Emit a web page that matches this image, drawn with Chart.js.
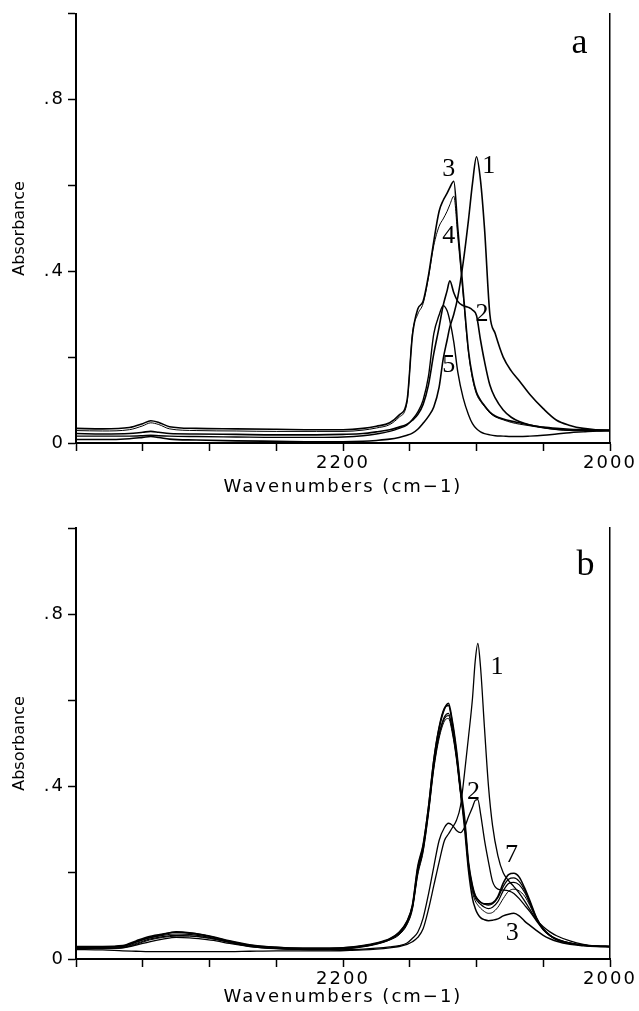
<!DOCTYPE html>
<html>
<head>
<meta charset="utf-8">
<script src="https://cdn.jsdelivr.net/npm/chart.js@4.4.1/dist/chart.umd.min.js"></script>
<style>
  body { margin: 0; background: #fff; }
  .panel { position: absolute; left: 0; }
</style>
</head>
<body>
<div class="panel" style="top:0"><canvas id="chart-a" width="639" height="500"></canvas></div>
<div class="panel" style="top:500px"><canvas id="chart-b" width="639" height="511"></canvas></div>
<script>
// wavenumber grid of panel a (cm-1, high to low)
const wnA = [2400, 2380, 2360, 2350, 2344, 2338, 2330, 2310, 2280, 2250, 2220, 2200, 2185, 2175, 2165, 2158,
  2152, 2148, 2144, 2140, 2136, 2132, 2128, 2125, 2122, 2120, 2117, 2114, 2110, 2106, 2103, 2100,
  2097, 2094, 2090, 2086, 2080, 2074, 2068, 2060, 2050, 2040, 2030, 2020, 2010, 2000];

const a1 = [.008, .008, .010, .013, .015, .013, .009, .007, .005, .004, .003, .003, .004, .006, .009, .013,
  .018, .023, .032, .046, .062, .084, .130, .195, .240, .270, .300, .340, .420, .520, .605, .667,
  .612, .500, .300, .255, .200, .168, .145, .113, .080, .053, .041, .034, .031, .029];
const a2 = [.022, .021, .022, .025, .027, .025, .022, .021, .020, .019, .019, .020, .022, .026, .031, .037,
  .044, .053, .066, .090, .135, .208, .270, .320, .355, .378, .350, .330, .320, .316, .310, .297,
  .240, .190, .135, .105, .077, .060, .050, .042, .037, .034, .032, .031, .030, .030];
const a3 = [.034, .033, .036, .045, .052, .048, .038, .034, .033, .032, .031, .031, .034, .039, .047, .065,
  .100, .250, .312, .330, .390, .470, .540, .565, .582, .595, .610, .500, .355, .215, .155, .118,
  .100, .087, .072, .063, .056, .051, .047, .042, .036, .032, .030, .029, .029, .029];
const a4 = [.029, .028, .031, .040, .047, .043, .033, .029, .028, .027, .027, .027, .030, .035, .043, .060,
  .095, .255, .300, .325, .385, .460, .505, .522, .540, .555, .575, .480, .345, .210, .150, .114,
  .097, .085, .070, .061, .054, .048, .044, .040, .035, .031, .029, .028, .028, .028];
const a5 = [.016, .016, .016, .017, .018, .017, .016, .015, .014, .013, .013, .014, .017, .021, .027, .034,
  .042, .055, .072, .100, .155, .254, .298, .320, .308, .285, .235, .165, .105, .066, .045, .033,
  .026, .022, .019, .017, .016, .015, .015, .016, .018, .021, .024, .026, .028, .029];

// wavenumber grid of panel b
const wnB = [2400, 2380, 2365, 2355, 2345, 2335, 2325, 2315, 2305, 2295, 2285, 2270, 2250, 2230, 2210, 2195,
  2185, 2175, 2165, 2158, 2152, 2148, 2144, 2140, 2136, 2132, 2128, 2124, 2121, 2118, 2115, 2112,
  2109, 2106, 2103, 2101, 2099, 2097, 2094, 2091, 2088, 2084, 2080, 2076, 2072, 2068, 2064, 2060,
  2055, 2050, 2045, 2040, 2030, 2020, 2010, 2000];

const b1 = [.022, .021, .019, .018, .017, .017, .017, .017, .017, .017, .017, .018, .019, .019, .019, .020,
  .021, .023, .026, .029, .034, .040, .050, .070, .115, .170, .225, .275, .290, .305, .322, .355,
  .430, .515, .605, .690, .732, .678, .535, .400, .310, .240, .200, .182, .168, .153, .135, .115,
  .090, .075, .063, .054, .042, .034, .030, .029];
const b2 = [.025, .025, .026, .032, .040, .046, .050, .049, .046, .042, .036, .029, .024, .022, .021, .022,
  .023, .025, .028, .031, .037, .048, .062, .095, .150, .214, .275, .305, .315, .310, .298, .293,
  .305, .330, .352, .368, .370, .338, .276, .225, .180, .162, .160, .158, .152, .140, .125, .110,
  .088, .068, .055, .047, .037, .032, .030, .029];
const b3 = [.028, .028, .030, .040, .050, .057, .063, .061, .056, .049, .041, .032, .027, .025, .025, .027,
  .030, .036, .046, .061, .087, .123, .210, .262, .352, .462, .538, .582, .588, .545, .478, .392,
  .305, .205, .140, .118, .104, .096, .091, .089, .090, .093, .100, .104, .106, .100, .088, .078,
  .066, .055, .047, .041, .034, .031, .029, .028];
const b4 = [.024, .024, .026, .034, .044, .050, .053, .053, .050, .045, .038, .029, .024, .022, .022, .024,
  .028, .034, .044, .056, .080, .115, .195, .248, .335, .440, .512, .552, .558, .522, .462, .382,
  .312, .212, .155, .135, .125, .118, .110, .106, .108, .120, .140, .157, .162, .158, .146, .124,
  .092, .068, .054, .045, .036, .032, .030, .029];
const b5 = [.025, .025, .027, .036, .046, .052, .055, .054, .051, .046, .039, .030, .025, .023, .023, .025,
  .029, .035, .045, .058, .082, .118, .200, .252, .340, .445, .518, .558, .565, .528, .468, .388,
  .318, .218, .162, .142, .133, .127, .120, .117, .120, .133, .158, .175, .178, .172, .155, .128,
  .093, .068, .054, .045, .036, .032, .030, .029];
const b6 = [.027, .027, .029, .039, .049, .055, .058, .057, .053, .047, .040, .031, .026, .024, .024, .026,
  .030, .036, .046, .060, .085, .122, .205, .258, .345, .450, .522, .562, .570, .532, .472, .392,
  .322, .222, .168, .148, .138, .132, .127, .125, .128, .142, .168, .185, .188, .180, .160, .132,
  .095, .070, .055, .046, .037, .032, .030, .029];
const b7 = [.029, .029, .031, .042, .052, .058, .062, .060, .056, .050, .042, .033, .027, .025, .025, .027,
  .031, .037, .047, .062, .088, .125, .215, .265, .350, .460, .535, .580, .593, .550, .485, .400,
  .330, .225, .170, .148, .138, .132, .128, .128, .130, .145, .176, .196, .199, .190, .165, .135,
  .095, .070, .055, .045, .037, .032, .030, .029];

// axis ticks
const xTickValues = [2000, 2050, 2100, 2150, 2200, 2250, 2300, 2350, 2400];
const xTickText = ['2000', '', '', '', '2200', '', '', '', ''];
const yTickValues = [0, 0.2, 0.4, 0.6, 0.8, 1.0];
const yTickText = ['0', '', '.4', '', '.8', ''];

// curve numbers and panel letters, in data coordinates
const labelsA = ['3', '1', '4', '2', '5', 'a'];
const labelsAW = [2120.8, 2090.9, 2120.8, 2095.8, 2120.8, 2022.9];
const labelsAV = [0.637, 0.645, 0.482, 0.301, 0.181, 0.930];
const labelsB = ['1', '2', '7', '3', 'b'];
const labelsBW = [2084.6, 2102.3, 2073.8, 2073.3, 2018.4];
const labelsBV = [0.678, 0.387, 0.241, 0.060, 0.914];

const sansFont = '"DejaVu Sans", sans-serif';
const serifFont = '"Liberation Serif", "Times New Roman", serif';

Chart.defaults.color = "#000";
Chart.defaults.font.family = sansFont;

// the plotter lettering is wide: space out the sans text except the y title
const wideText = {
  id: "wideText",
  beforeInit(chart) {
    const ctx = chart.ctx;
    const fillText = ctx.fillText;
    ctx.fillText = function (text, x, y, maxWidth) {
      this.letterSpacing = this.font.includes("Sans") && text !== "Absorbance" ? "2px" : "0px";
      return fillText.call(this, text, x, y, maxWidth);
    };
  },
};

const curveLabels = {
  id: "curveLabels",
  afterDatasetsDraw(chart, args, opts) {
    const { ctx, scales: { x, y } } = chart;
    ctx.save();
    ctx.fillStyle = "#000";
    ctx.textAlign = "center";
    ctx.textBaseline = "middle";
    opts.text.forEach((t, i) => {
      ctx.font = `${/[a-z]/.test(t) ? 36 : 26}px ${serifFont}`;
      ctx.fillText(t, x.getPixelForValue(opts.w[i]), y.getPixelForValue(opts.v[i]));
    });
    ctx.restore();
  },
};

function lines(wn, series, widths) {
  return series.map((vals, i) => ({
    data: vals.map((v, j) => ({ x: wn[j], y: v })),
    borderColor: "#000",
    borderWidth: widths[i],
    pointRadius: 0,
    cubicInterpolationMode: "monotone",
  }));
}

function makeChart(id, datasets, labels, topPad, axisHeight, titlePad) {
  return new Chart(document.getElementById(id), {
    type: "line",
    data: { datasets: datasets },
    options: {
      responsive: false,
      animation: false,
      layout: { padding: { top: topPad, right: 29, left: 0, bottom: 0 } },
      scales: {
        x: {
          type: "linear",
          reverse: true,
          min: 2000,
          max: 2400,
          afterBuildTicks: (s) => { s.ticks = xTickValues.map((v) => ({ value: v })); },
          afterFit: (s) => { s.height = axisHeight; },
          ticks: {
            callback: (v, i) => xTickText[i],
            autoSkip: false,
            maxRotation: 0,
            padding: 2,
            font: { size: 18 },
          },
          grid: { drawOnChartArea: false, tickLength: 8, tickColor: "#000", tickWidth: 1.5 },
          border: { display: true, color: "#000", width: 2 },
          title: {
            display: true,
            text: "Wavenumbers (cm−1)",
            font: { size: 18 },
            padding: { top: 0, bottom: titlePad },
          },
        },
        y: {
          min: 0,
          max: 1,
          afterBuildTicks: (s) => { s.ticks = yTickValues.map((v) => ({ value: v })); },
          afterFit: (s) => { s.width = 76; },
          ticks: { callback: (v, i) => yTickText[i], padding: 3, font: { size: 18 } },
          grid: { drawOnChartArea: false, tickLength: 8, tickColor: "#000", tickWidth: 1.5 },
          border: { display: true, color: "#000", width: 2 },
          title: {
            display: true,
            text: "Absorbance",
            font: { size: 16 },
            padding: { top: 10, bottom: 0 },
          },
        },
        y2: {
          position: "right",
          min: 0,
          max: 1,
          afterFit: (s) => { s.width = 0; },
          ticks: { display: false },
          grid: { display: false },
          border: { display: true, color: "#000", width: 1.5 },
        },
      },
      plugins: {
        legend: { display: false },
        tooltip: { enabled: false },
        curveLabels: labels,
      },
    },
    plugins: [wideText, curveLabels],
  });
}

makeChart(
  "chart-a",
  lines(wnA, [a1, a2, a3, a4, a5], [1.6, 1.6, 1.6, 1.0, 1.4]),
  { text: labelsA, w: labelsAW, v: labelsAV },
  12, 57, 2
);

makeChart(
  "chart-b",
  lines(wnB, [b1, b2, b3, b4, b5, b6, b7], [1.3, 1.3, 1.5, 1.0, 1.2, 1.2, 1.6]),
  { text: labelsB, w: labelsBW, v: labelsBV },
  28, 52, 3
);
</script>
</body>
</html>
